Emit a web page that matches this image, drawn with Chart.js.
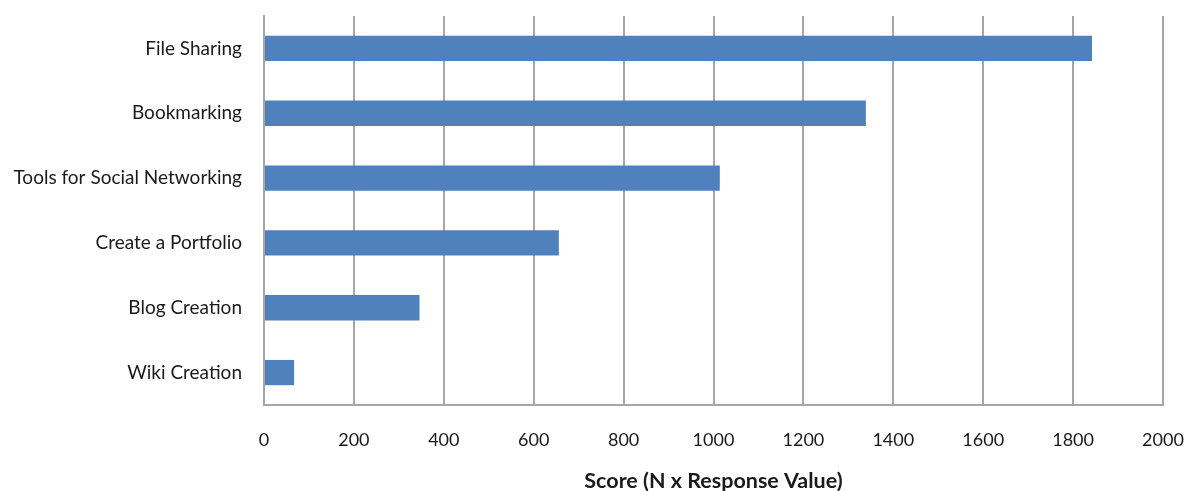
<!DOCTYPE html>
<html>
<head>
<meta charset="utf-8">
<script src="https://cdn.jsdelivr.net/npm/chart.js@4"></script>
<style>
html,body{margin:0;padding:0;background:#fff;}
#wrap{width:1187px;height:491px;position:relative;}
</style>
</head>
<body>
<div id="wrap"><canvas id="c" width="1187" height="491"></canvas></div>
<script>
const categories = ["File Sharing","Bookmarking","Tools for Social Networking","Create a Portfolio","Blog Creation","Wiki Creation"];
const scores = [1842, 1339, 1014, 656, 346, 67];
const xTicks = [0,200,400,600,800,1000,1200,1400,1600,1800,2000];
const xTitle = "Score (N x Response Value)";

const FONT = "Lato, 'Liberation Sans', Arial, sans-serif";
function noPad(s){ s.paddingLeft = 0; s.paddingRight = 0; s.paddingTop = 0; s.paddingBottom = 0; }
new Chart(document.getElementById('c'), {
  type: 'bar',
  data: {
    labels: categories,
    datasets: [{
      data: scores,
      backgroundColor: '#4F81BD',
      borderWidth: 0,
      barPercentage: 0.39,
      categoryPercentage: 1.0
    }]
  },
  options: {
    indexAxis: 'y',
    responsive: false,
    animation: false,
    devicePixelRatio: 1,
    layout: { padding: { top: 16, right: 24, bottom: 0, left: 0 } },
    plugins: { legend: { display: false }, tooltip: { enabled: false } },
    scales: {
      x: {
        min: 0, max: 2000,
        afterBuildTicks: s => { s.ticks = xTicks.map(v => ({ value: v })); },
        grid: { display: true, color: '#a6a6a6', lineWidth: 2, drawTicks: false },
        border: { display: true, color: '#a6a6a6', width: 2 },
        ticks: { padding: 24, color: '#1a1a1a', font: { family: FONT, size: 18 }, maxRotation: 0,
                 callback: v => String(v) },
        title: { display: true, text: xTitle, color: '#1a1a1a', font: { family: FONT, size: 21.5, weight: 'bold' }, padding: { top: 14, bottom: -3 } },
        afterFit: s => { s.height = 86; noPad(s); }
      },
      y: {
        grid: { display: false, drawTicks: false },
        border: { display: true, color: '#a6a6a6', width: 2 },
        ticks: { padding: 22, color: '#1a1a1a', font: { family: FONT, size: 19 } },
        afterFit: s => { s.width = 264; noPad(s); }
      }
    }
  }
});
</script>
</body>
</html>
